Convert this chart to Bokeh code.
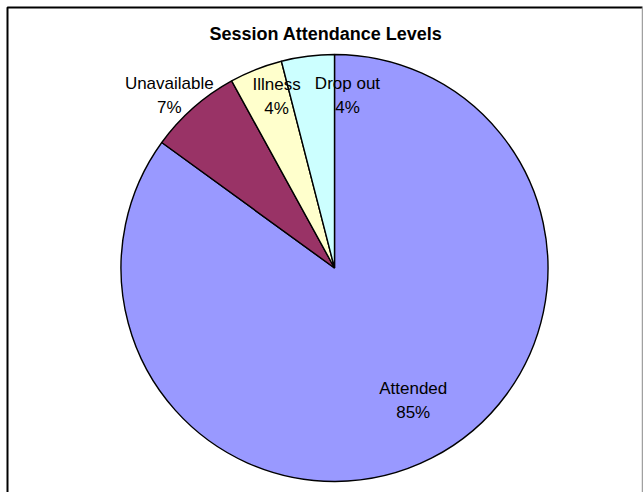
import math
from bokeh.plotting import figure
from bokeh.models import ColumnDataSource, Range1d
from bokeh.core.properties import value
from bokeh.embed import file_html
from bokeh.resources import INLINE

# Attendance breakdown (percent of sessions)
categories = ["Attended", "Unavailable", "Illness", "Drop out"]
percents = [85, 7, 4, 4]
colors = ["#9999FF", "#993366", "#FFFFCC", "#CCFFFF"]

W, H = 643, 492
cx, cy, R = 334, 492 - 267.5, 213.5

# label placement per slice: (radial fraction, angular nudge in degrees, clockwise)
label_layout = [(0.72, -3.8), (1.12, -2.3), (0.85, 3.0), (0.81, 11.5)]

total = float(sum(percents))
starts, ends, lx, ly = [], [], [], []
cum = 0.0
for pct, (rf, nudge) in zip(percents, label_layout):
    a0 = math.pi / 2 - 2 * math.pi * cum / total
    cum += pct
    a1 = math.pi / 2 - 2 * math.pi * cum / total
    starts.append(a0)
    ends.append(a1)
    mid = (a0 + a1) / 2 - math.radians(nudge)
    lx.append(cx + rf * R * math.cos(mid))
    ly.append(cy + rf * R * math.sin(mid))

src = ColumnDataSource(dict(
    start=starts, end=ends, color=colors, name=categories,
    pct=[f"{round(100 * v / total)}%" for v in percents],
    lx=lx, ly=ly,
))

p = figure(width=W, height=H, x_range=Range1d(0, W), y_range=Range1d(0, H),
           output_backend="svg", toolbar_location=None, min_border=0)
p.axis.visible = False
p.grid.visible = False
p.outline_line_color = None
p.background_fill_color = "white"

# chart frame
p.line(x=[7, 7, 642], y=[-5, H - 7, H - 7], line_color="black", line_width=2)
p.line(x=[642, 642], y=[H - 7, -5], line_color="#a0a0a0", line_width=1.5)

p.wedge(x=cx, y=cy, radius=R, start_angle="start", end_angle="end",
        direction="clock", fill_color="color", line_color="black",
        line_width=1.4, source=src)

font = value("Liberation Sans")
p.text(x="lx", y="ly", text="name", source=src, text_font=font,
       text_font_size="17px", text_align="center", text_baseline="middle",
       y_offset=-12, text_color="black")
p.text(x="lx", y="ly", text="pct", source=src, text_font=font,
       text_font_size="17px", text_align="center", text_baseline="middle",
       y_offset=12, text_color="black")

p.text(x=[W / 2 + 4], y=[H - 33], text=["Session Attendance Levels"],
       text_font=font, text_font_style="bold", text_font_size="18px",
       text_align="center", text_baseline="middle", text_color="black")

open("out.html", "w").write(file_html(p, INLINE))
